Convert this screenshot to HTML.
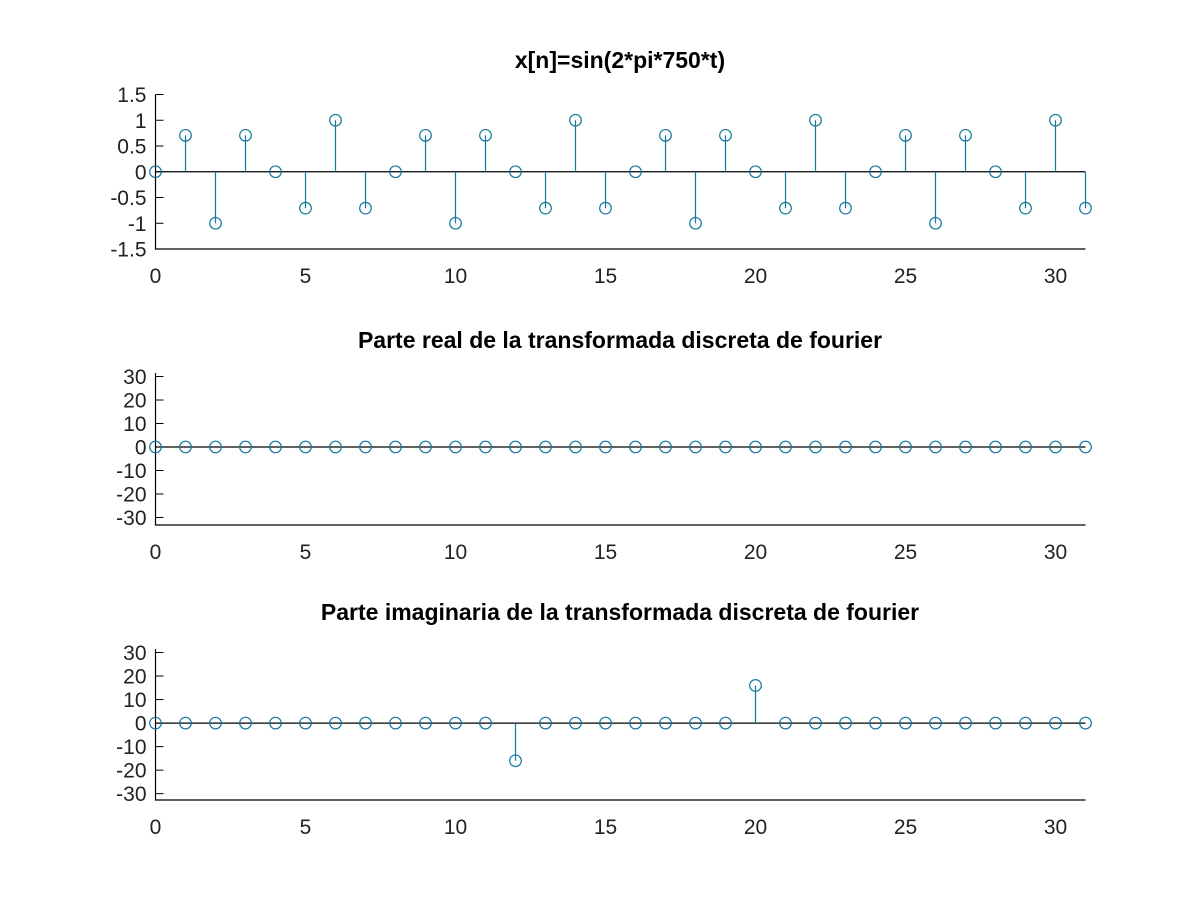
<!DOCTYPE html>
<html><head><meta charset="utf-8"><style>
body{margin:0;background:#fff;}
svg{display:block;font-family:"Liberation Sans",sans-serif;}
</style></head><body>
<svg id="fig" width="1200" height="900"></svg>
<script>
const nValues=[0,1,2,3,4,5,6,7,8,9,10,11,12,13,14,15,16,17,18,19,20,21,22,23,24,25,26,27,28,29,30,31];
const xSignal=[0,0.707,-1,0.707,0,-0.707,1,-0.707,0,0.707,-1,0.707,0,-0.707,1,-0.707,0,0.707,-1,0.707,0,-0.707,1,-0.707,0,0.707,-1,0.707,0,-0.707,1,-0.707];
const realPart=[0,0,0,0,0,0,0,0,0,0,0,0,0,0,0,0,0,0,0,0,0,0,0,0,0,0,0,0,0,0,0,0];
const imagPart=[0,0,0,0,0,0,0,0,0,0,0,0,-16,0,0,0,0,0,0,0,16,0,0,0,0,0,0,0,0,0,0,0];
const xTicks=[0,5,10,15,20,25,30];
const yTicks1=[1.5,1,0.5,0,-0.5,-1,-1.5];
const yTicks23=[30,20,10,0,-10,-20,-30];
const titles=["x[n]=sin(2*pi*750*t)","Parte real de la transformada discreta de fourier","Parte imaginaria de la transformada discreta de fourier"];

const svg=document.getElementById('fig');
const NS="http://www.w3.org/2000/svg";
function mk(tag,attrs,parent){const e=document.createElementNS(NS,tag);for(const k in attrs)e.setAttribute(k,attrs[k]);(parent||svg).appendChild(e);return e;}
const color="#12789e";
const panels=[
 {name:'signal',data:xSignal,yt:yTicks1,y0:-1.5,y1:1.5,pt:94.5,pb:249,titleY:68},
 {name:'real',data:realPart,yt:yTicks23,y0:-33.2,y1:31.5,pt:373,pb:525,titleY:348},
 {name:'imag',data:imagPart,yt:yTicks23,y0:-32.7,y1:31.5,pt:649,pb:800,titleY:620}
];
const L=155.5,R=1085.5;
const xs=v=>L+(v-0)/31*(R-L);
panels.forEach((p,i)=>{
 const g=mk('g',{});
 
 
 const ys=v=>p.pb+(v-p.y0)/(p.y1-p.y0)*(p.pt-p.pb);
 const t=mk('text',{x:620,y:p.titleY,'text-anchor':'middle','font-size':23,'font-weight':'bold',fill:'#000'},g);
 t.textContent=titles[i];
 
 
 const ax=mk('path',{d:`M${L},${p.pt}V${p.pb}H${R}`,stroke:'#000','stroke-width':1.2,fill:'none'},g);
 
 
 p.yt.forEach(v=>{
  const y=ys(v);
  mk('line',{x1:L,x2:L+8,y1:y,y2:y,stroke:'#000','stroke-width':1},g);
  const tl=mk('text',{x:L-9,y:y+7.5,'text-anchor':'end','font-size':21,fill:'#222'},g);
  tl.textContent=String(v);
  
  
 });
 xTicks.forEach(v=>{
  const tl=mk('text',{x:xs(v),y:p.pb+34,'text-anchor':'middle','font-size':21,fill:'#222'},g);
  tl.textContent=String(v);
  
  
 });
 const y0=ys(0);
 mk('line',{x1:L,x2:R,y1:y0,y2:y0,stroke:'#000','stroke-width':1.2},g);
 nValues.forEach((n,k)=>{
  const v=p.data[k];
  const x=xs(n),y=ys(v);
  const st=mk('line',{x1:x,x2:x,y1:y0,y2:y,stroke:color,'stroke-width':1.2},g);
  
  
  const c=mk('circle',{cx:x,cy:y,r:5.8,stroke:color,'stroke-width':1.2,fill:'none'},g);
  
  
 });
});
</script>
</body></html>
